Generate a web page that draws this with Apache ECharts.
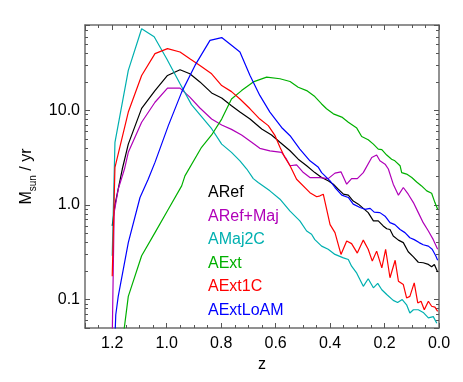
<!DOCTYPE html>
<html>
<head>
<meta charset="utf-8">
<script src="https://cdn.jsdelivr.net/npm/echarts@6/dist/echarts.min.js"></script>
<style>
html,body{margin:0;padding:0;background:#fff;}
#chart{width:463px;height:382px;}
</style>
</head>
<body>
<div id="chart"></div>
<script>
// ---- data (z, star formation rate in Msun/yr) ----
const seriesNames = ['ARef', 'ARef+Maj', 'AMaj2C', 'AExt', 'AExt1C', 'AExtLoAM'];
const seriesColors = ['#000000', '#b000b8', '#00b0b0', '#00b000', '#ff0000', '#0000ff'];

const arefZ = [1.2, 1.19, 1.163, 1.141, 1.092, 1.043, 0.997, 0.951, 0.915, 0.878, 0.835, 0.798, 0.762, 0.731, 0.694, 0.651, 0.615, 0.584, 0.547, 0.517, 0.486, 0.456, 0.431, 0.407, 0.388, 0.37, 0.351, 0.333, 0.315, 0.296, 0.278, 0.26, 0.241, 0.223, 0.205, 0.192, 0.18, 0.168, 0.149, 0.131, 0.113, 0.094, 0.076, 0.058, 0.039, 0.027, 0.017, 0.005];
const arefV = [0.6, 1.0, 2.4, 4.4, 10.5, 16.2, 23.4, 26.9, 24.4, 20, 15.3, 13.5, 11.2, 9.6, 8.1, 6.35, 5.5, 4.6, 3.74, 3.05, 2.6, 2.2, 1.95, 1.8, 1.66, 1.47, 1.3, 1.27, 1.1, 1.02, 0.92, 0.83, 0.68, 0.68, 0.6, 0.56, 0.55, 0.47, 0.425, 0.4, 0.32, 0.283, 0.248, 0.245, 0.235, 0.222, 0.235, 0.195];

const arefMajZ = [1.2, 1.193, 1.178, 1.155, 1.141, 1.092, 1.043, 0.997, 0.951, 0.915, 0.878, 0.835, 0.798, 0.762, 0.725, 0.688, 0.658, 0.621, 0.578, 0.56, 0.547, 0.523, 0.498, 0.474, 0.437, 0.407, 0.382, 0.36, 0.339, 0.321, 0.3, 0.278, 0.247, 0.229, 0.217, 0.198, 0.186, 0.168, 0.149, 0.131, 0.113, 0.094, 0.076, 0.058, 0.039, 0.021, 0.005];
const arefMajV = [0.04, 0.83, 1.47, 2.4, 3.6, 7.5, 12.2, 17.2, 17.2, 13.8, 10.6, 8.1, 7.0, 6.3, 5.5, 4.6, 3.97, 3.74, 3.6, 3.05, 2.6, 2.66, 2.2, 1.95, 1.95, 1.9, 2.17, 2.24, 1.66, 1.9, 1.9, 2.2, 3.18, 3.37, 2.93, 2.7, 2.4, 1.66, 1.27, 1.53, 1.3, 1.06, 0.83, 0.65, 0.53, 0.43, 0.34];

const amaj2cZ = [1.2, 1.19, 1.141, 1.092, 1.046, 1.0, 0.951, 0.909, 0.872, 0.835, 0.798, 0.762, 0.731, 0.706, 0.682, 0.664, 0.621, 0.584, 0.547, 0.511, 0.486, 0.468, 0.456, 0.431, 0.407, 0.382, 0.351, 0.333, 0.321, 0.302, 0.278, 0.26, 0.241, 0.225, 0.21, 0.192, 0.168, 0.152, 0.135, 0.119, 0.107, 0.094, 0.076, 0.058, 0.039, 0.021, 0.008];
const amaj2cV = [0.29, 4.6, 26.5, 73, 60, 35.2, 19.1, 11.5, 8.6, 6.4, 4.4, 3.6, 2.93, 2.4, 1.9, 1.73, 1.41, 1.15, 0.86, 0.68, 0.53, 0.49, 0.43, 0.367, 0.34, 0.3, 0.276, 0.265, 0.225, 0.19, 0.138, 0.166, 0.133, 0.148, 0.127, 0.113, 0.098, 0.093, 0.1, 0.088, 0.072, 0.078, 0.078, 0.073, 0.064, 0.066, 0.056];

const aextZ = [1.16, 1.141, 1.092, 1.043, 0.994, 0.945, 0.933, 0.872, 0.835, 0.798, 0.762, 0.725, 0.682, 0.633, 0.584, 0.547, 0.517, 0.486, 0.456, 0.431, 0.413, 0.388, 0.357, 0.333, 0.302, 0.284, 0.26, 0.241, 0.223, 0.21, 0.192, 0.174, 0.162, 0.143, 0.137, 0.119, 0.1, 0.082, 0.064, 0.045, 0.027, 0.015, 0.005];
const aextV = [0.04, 0.108, 0.29, 0.51, 0.9, 1.59, 2.03, 4.07, 5.5, 8.1, 13.2, 16.2, 20, 22.5, 21.6, 20.2, 17.6, 16.2, 14, 11.7, 10.4, 9.2, 8.5, 7.5, 6.5, 5.3, 4.9, 4.4, 3.9, 3.84, 3.37, 3.05, 2.93, 2.6, 2.2, 2.12, 1.95, 1.75, 1.59, 1.41, 1.33, 1.06, 0.9];

const aext1cZ = [1.2, 1.19, 1.141, 1.092, 1.043, 0.997, 0.951, 0.915, 0.878, 0.835, 0.798, 0.762, 0.731, 0.694, 0.658, 0.627, 0.602, 0.584, 0.566, 0.547, 0.523, 0.474, 0.449, 0.437, 0.425, 0.4, 0.382, 0.36, 0.339, 0.321, 0.3, 0.278, 0.26, 0.245, 0.229, 0.21, 0.196, 0.18, 0.161, 0.149, 0.131, 0.119, 0.107, 0.091, 0.078, 0.066, 0.054, 0.039, 0.027, 0.015, 0.005];
const aext1cV = [0.176, 2.5, 9.6, 23.4, 39.8, 45, 41.5, 35.2, 29.9, 24.4, 18.3, 15.8, 13.2, 10.4, 8.1, 6.9, 5.4, 4.07, 3.18, 2.6, 1.87, 1.35, 1.22, 1.25, 1.3, 0.62, 0.51, 0.3, 0.415, 0.39, 0.31, 0.425, 0.34, 0.255, 0.325, 0.216, 0.34, 0.17, 0.26, 0.156, 0.144, 0.104, 0.108, 0.15, 0.092, 0.096, 0.078, 0.096, 0.085, 0.083, 0.075];

const aextLoZ = [1.19, 1.187, 1.178, 1.141, 1.098, 1.068, 1.043, 0.994, 0.945, 0.896, 0.841, 0.798, 0.762, 0.731, 0.694, 0.658, 0.621, 0.578, 0.547, 0.511, 0.474, 0.443, 0.431, 0.4, 0.382, 0.357, 0.333, 0.315, 0.29, 0.272, 0.253, 0.238, 0.217, 0.198, 0.18, 0.162, 0.143, 0.125, 0.107, 0.091, 0.073, 0.058, 0.039, 0.025, 0.012, 0.005];
const aextLoV = [0.04, 0.069, 0.108, 0.4, 1.2, 1.87, 2.82, 6.9, 15.6, 29.9, 55, 58.9, 48.8, 41.5, 23.4, 14.4, 9.6, 6.6, 5.4, 3.9, 2.93, 2.5, 2.2, 1.8, 1.53, 1.27, 1.2, 1.02, 0.94, 0.9, 0.92, 0.84, 0.83, 0.76, 0.65, 0.62, 0.55, 0.51, 0.45, 0.43, 0.4, 0.38, 0.367, 0.34, 0.29, 0.26];

// axis settings
const zMin = 0, zMax = 1.3;
const zTickLabels = [0, 0.2, 0.4, 0.6, 0.8, 1.0, 1.2];
const yMin = 0.05, yMax = 80;
const yMajorLabels = {'0.1': '0.1', '1': '1.0', '10': '10.0'};
const yMinorTickValues = [0.06, 0.07, 0.08, 0.09, 0.2, 0.3, 0.4, 0.5, 0.6, 0.7, 0.8, 0.9, 2, 3, 4, 5, 6, 7, 8, 9, 20, 30, 40, 50, 60, 70];

const allZ = [arefZ, arefMajZ, amaj2cZ, aextZ, aext1cZ, aextLoZ];
const allV = [arefV, arefMajV, amaj2cV, aextV, aext1cV, aextLoV];

const FONT = 'Liberation Sans, Arial, Helvetica, sans-serif';
const frameColor = '#6e6e6e';
const tickColor = '#555555';

function yLabel(v) {
  for (const k in yMajorLabels) {
    const kv = parseFloat(k);
    if (Math.abs(v - kv) / kv < 1e-6) return yMajorLabels[k];
  }
  return '';
}

const lg = Math.log10;
const frameLine = {show: true, onZero: false, lineStyle: {color: frameColor, width: 1.5}};
const noLine = {show: false, onZero: false};
const xBase = {
  type: 'value', min: zMin, max: zMax, inverse: true, gridIndex: 0,
  splitLine: {show: false}
};
const yLogBase = {
  type: 'log', min: yMin, max: yMax, logBase: 10,
  splitLine: {show: false}, minorSplitLine: {show: false}
};
const yLinBase = {
  type: 'value', min: lg(yMin), max: lg(yMax),
  splitLine: {show: false}, axisLine: noLine, axisLabel: {show: false}
};

const option = {
  animation: false,
  backgroundColor: '#ffffff',
  grid: {left: 85, right: 24, top: 25, bottom: 54, containLabel: false},
  xAxis: [
    Object.assign({}, xBase, {
      position: 'bottom', interval: 0.2,
      axisLine: frameLine,
      axisTick: {show: true, inside: true, length: 5, lineStyle: {color: tickColor, width: 1}},
      axisLabel: {show: true, margin: 8, fontSize: 16, color: '#000', fontFamily: FONT,
        customValues: zTickLabels,
        formatter: v => Number(v).toFixed(1)},
      name: 'z', nameLocation: 'middle', nameGap: 25,
      nameTextStyle: {fontSize: 16, color: '#000', fontFamily: FONT}
    }),
    Object.assign({}, xBase, {
      position: 'bottom', interval: 0.05,
      axisLine: noLine,
      axisTick: {show: true, inside: true, length: 3, lineStyle: {color: tickColor, width: 1}},
      axisLabel: {show: false}
    }),
    Object.assign({}, xBase, {
      position: 'top', interval: 0.2,
      axisLine: frameLine,
      axisTick: {show: true, inside: true, length: 5, lineStyle: {color: tickColor, width: 1}},
      axisLabel: {show: false}
    }),
    Object.assign({}, xBase, {
      position: 'top', interval: 0.05,
      axisLine: noLine,
      axisTick: {show: true, inside: true, length: 3, lineStyle: {color: tickColor, width: 1}},
      axisLabel: {show: false}
    })
  ],
  yAxis: [
    Object.assign({}, yLogBase, {
      position: 'left',
      axisLine: frameLine,
      axisTick: {show: true, inside: true, length: 5, lineStyle: {color: tickColor, width: 1}},
      axisLabel: {show: true, margin: 5, fontSize: 16, color: '#000', fontFamily: FONT, formatter: yLabel},
      name: '{m|M}{s|sun} / yr', nameLocation: 'middle', nameRotate: 90, nameGap: 32,
      nameTextStyle: {fontSize: 16, color: '#000', fontFamily: FONT,
        rich: {
          m: {fontSize: 16, color: '#000', fontFamily: FONT},
          s: {fontSize: 10, color: '#000', fontFamily: FONT, verticalAlign: 'bottom', lineHeight: 22}
        }}
    }),
    Object.assign({}, yLinBase, {
      position: 'left',
      axisTick: {show: true, inside: true, length: 3, lineStyle: {color: tickColor, width: 1},
        customValues: yMinorTickValues.map(lg)}
    }),
    Object.assign({}, yLogBase, {
      position: 'right',
      axisLine: frameLine,
      axisTick: {show: true, inside: true, length: 5, lineStyle: {color: tickColor, width: 1}},
      axisLabel: {show: false}
    }),
    Object.assign({}, yLinBase, {
      position: 'right',
      axisTick: {show: true, inside: true, length: 3, lineStyle: {color: tickColor, width: 1},
        customValues: yMinorTickValues.map(lg)}
    })
  ],
  legend: {
    orient: 'vertical', left: 198, top: 180,
    icon: 'none', itemWidth: 0, itemHeight: 16, itemGap: 7.5,
    selectedMode: false,
    textStyle: {fontSize: 16, fontFamily: FONT},
    data: seriesNames.map((n, i) => ({name: n, textStyle: {color: seriesColors[i]}}))
  },
  series: seriesNames.map((n, i) => ({
    name: n, type: 'line', xAxisIndex: 0, yAxisIndex: 0,
    showSymbol: false, symbol: 'none', smooth: false, clip: true,
    color: seriesColors[i],
    lineStyle: {color: seriesColors[i], width: 1.2},
    data: allZ[i].map((z, j) => [z, allV[i][j]])
  }))
};

const chart = echarts.init(document.getElementById('chart'), null, {renderer: 'canvas'});
chart.setOption(option);
</script>
</body>
</html>
